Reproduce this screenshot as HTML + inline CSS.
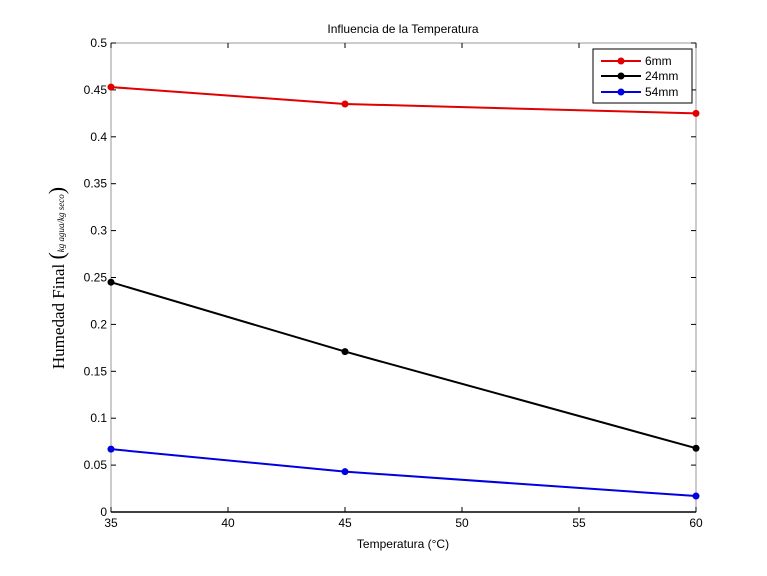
<!DOCTYPE html>
<html><head><meta charset="utf-8"><style>
body{margin:0;background:#fff;}
svg{display:block;font-family:"Liberation Sans",sans-serif;}
</style></head><body>
<svg id="chart" width="767" height="576">
<g id="axes"></g><g id="series"></g>
<text x="403" y="33" font-size="12" text-anchor="middle">Influencia de la Temperatura</text>
<text x="403" y="548" font-size="12" text-anchor="middle">Temperatura (°C)</text>
<g transform="translate(64,278) rotate(-90)">
<text x="0" y="0" font-family="Liberation Serif,serif" font-size="17" text-anchor="middle">Humedad Final <tspan font-size="22">(</tspan><tspan font-size="9" font-style="italic">kg agua/kg seco</tspan><tspan font-size="22">)</tspan></text>
</g>
<g>
<rect x="593" y="49" width="99" height="54" fill="#fff" stroke="#000" stroke-width="1"/>
<g><line x1="601" y1="61" x2="641" y2="61" stroke="#e00000" stroke-width="2"/><circle cx="621" cy="61" r="3.5" fill="#e00000"/><text x="645" y="65" font-size="12">6mm</text></g>
<g><line x1="601" y1="76" x2="641" y2="76" stroke="#000" stroke-width="2"/><circle cx="621" cy="76" r="3.5" fill="#000"/><text x="645" y="80" font-size="12">24mm</text></g>
<g><line x1="601" y1="92" x2="641" y2="92" stroke="#0000e0" stroke-width="2"/><circle cx="621" cy="92" r="3.5" fill="#0000e0"/><text x="645" y="96" font-size="12">54mm</text></g>
</g>
</svg>
<script>
const temps=[35,45,60];
const s6mm=[0.453,0.435,0.425];
const s24mm=[0.245,0.171,0.068];
const s54mm=[0.067,0.043,0.017];
const xTicks=[35,40,45,50,55,60];
const yTicks=[0,0.05,0.1,0.15,0.2,0.25,0.3,0.35,0.4,0.45,0.5];
const L=111,R=696,T=43,B=512;
const xs=v=>L+(v-35)/(60-35)*(R-L);
const ys=v=>B-(v/0.5)*(B-T);
const NS='http://www.w3.org/2000/svg';
const ax=document.getElementById('axes'),se=document.getElementById('series');
function mk(tag,at,p){const e=document.createElementNS(NS,tag);for(const k in at)e.setAttribute(k,at[k]);p.appendChild(e);return e;}
const box=mk('rect',{x:L,y:T,width:R-L,height:B-T,fill:'none',stroke:'#999','stroke-width':1},ax);


const xl=mk('line',{x1:L,y1:B,x2:R,y2:B,stroke:'#000','stroke-width':1.5},ax);


xTicks.forEach(t=>{const x=xs(t);
mk('line',{x1:x,y1:B,x2:x,y2:B-5,stroke:'#000'},ax);mk('line',{x1:x,y1:T,x2:x,y2:T+5,stroke:'#000'},ax);
const tx=mk('text',{x:x,y:B+15,'font-size':12,'text-anchor':'middle'},ax);tx.textContent=t;

});
yTicks.forEach(t=>{const y=ys(t);
mk('line',{x1:L,y1:y,x2:L+5,y2:y,stroke:'#000'},ax);mk('line',{x1:R,y1:y,x2:R-5,y2:y,stroke:'#000'},ax);
const tx=mk('text',{x:L-4,y:y+4,'font-size':12,'text-anchor':'end'},ax);tx.textContent=String(t);

});
[[s6mm,'#e00000','series-6mm'],[s24mm,'#000','series-24mm'],[s54mm,'#0000e0','series-54mm']].forEach(([d,c,n])=>{
const g=mk('g',{},se);


mk('polyline',{points:d.map((v,i)=>xs(temps[i])+','+ys(v)).join(' '),fill:'none',stroke:c,'stroke-width':2},g);
d.forEach((v,i)=>{const p=mk('circle',{cx:xs(temps[i]),cy:ys(v),r:3.5,fill:c},g);

});
});
</script>
</body></html>
